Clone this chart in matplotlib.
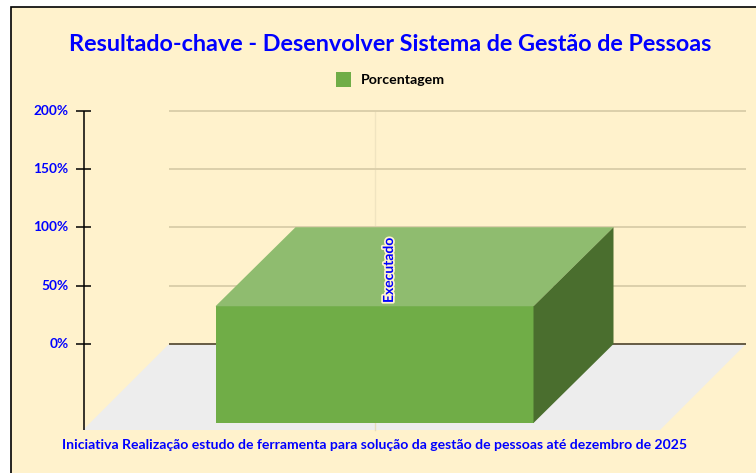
import matplotlib
matplotlib.use('Agg')
import matplotlib.pyplot as plt
import matplotlib.patheffects as pe
from matplotlib.patches import Polygon, Rectangle

W, H = 756, 473

title = "Resultado-chave - Desenvolver Sistema de Gestão de Pessoas"
series_name = "Porcentagem"
category = "Executado"
xlabel = "Iniciativa Realização estudo de ferramenta para solução da gestão de pessoas até dezembro de 2025"
values = [100]
yticks = [0, 50, 100, 150, 200]
ytick_labels = ["0%", "50%", "100%", "150%", "200%"]

BLUE = '#0000FF'
BG = '#FFF2CC'
FRONT = '#70AD47'
TOP = '#8FBC6F'
SIDE = '#4A6E2E'
FLOOR = '#EDEDED'
GRID = '#D9CDA8'

plt.rcParams['font.family'] = ['Lato', 'DejaVu Sans']
plt.rcParams['font.weight'] = 'bold'

fig = plt.figure(figsize=(W / 100, H / 100), dpi=100, facecolor='white')

# card behind everything, runs off the right and bottom edges
fig.patches.append(Rectangle((10.5 / W, -0.1), 1.1, 1.1 - 7.5 / H, transform=fig.transFigure,
                             fc=BG, ec='black', lw=1.2, zorder=-5))

# back wall: 169..746 px wide, 0% at y=344, 200% at y=110.5
left, right, top, bottom = 169, 746, 110.5, 344
ax = fig.add_axes([left / W, 1 - bottom / H, (right - left) / W, (bottom - top) / H])
ax.set_xlim(0, 1)
ax.set_ylim(0, 200)
ax.axis('off')

px_x = 1 / (right - left)
px_y = 200 / (bottom - top)

# floor
floor_dx = 86 * px_x
floor_dy = 86 * px_y
ax.add_patch(Polygon([(-floor_dx, -floor_dy), (0, 0), (1, 0), (1 - floor_dx, -floor_dy)],
                     fc=FLOOR, ec='none', clip_on=False, zorder=1))

# grid
for t in yticks:
    ax.plot([0, 1], [t, t], color='#5A5038' if t == 0 else GRID, lw=1.3, clip_on=False, zorder=2,
            solid_capstyle='butt')
ax.plot([206 * px_x] * 2, [0, 200], color='#F0E4C0', lw=1, zorder=1.5)
ax.plot([206 * px_x] * 2, [-floor_dy, -67 * px_y], color='#E6DCBC', lw=1, clip_on=False, zorder=1.5)

# y axis
axis_x = -85.5 * px_x
ax.plot([axis_x, axis_x], [-floor_dy, 200], color='black', lw=1.1, clip_on=False, zorder=3,
        solid_capstyle='butt')
for t, lab in zip(yticks, ytick_labels):
    ax.plot([axis_x - 8 * px_x, axis_x + 7 * px_x], [t, t], color='black', lw=1.1, clip_on=False, zorder=3,
            solid_capstyle='butt')
    ax.text(axis_x - 15 * px_x, t, lab, color=BLUE, fontsize=9.8, ha='right', va='center')

# 3d bar
bar_x = 46.5 * px_x
bar_w = 318 * px_x
dx = 80 * px_x
dy = 79 * px_y
v = values[0]
y0 = -dy
y1 = v - dy
x0, x1 = bar_x, bar_x + bar_w
ax.add_patch(Polygon([(x0, y0), (x1, y0), (x1, y1), (x0, y1)], fc=FRONT, ec='none', clip_on=False, zorder=5))
ax.add_patch(Polygon([(x0, y1), (x1, y1), (x1 + dx, v), (x0 + dx, v)], fc=TOP, ec='none', clip_on=False, zorder=5))
ax.add_patch(Polygon([(x1, y0), (x1 + dx, 0), (x1 + dx, v), (x1, y1)], fc=SIDE, ec='none', clip_on=False, zorder=5))

ax.text(220 * px_x, 41 * px_y, category, rotation=90, color=BLUE, fontsize=10,
        ha='center', va='bottom', zorder=7,
        path_effects=[pe.withStroke(linewidth=2.5, foreground='#FFF3D0')])

# title, legend, bottom label
fig.text(390 / W, 1 - 44.5 / H, title, color=BLUE, fontsize=16.8, ha='center', va='center')
fig.patches.append(Rectangle((336 / W, 1 - 87.5 / H), 15 / W, 15 / H, transform=fig.transFigure,
                             fc=FRONT, ec='none'))
fig.text(361 / W, 1 - 80 / H, series_name, color='black', fontsize=10.15, ha='left', va='center')
fig.text(374.5 / W, 1 - 444.5 / H, xlabel, color=BLUE, fontsize=10.12, ha='center', va='center')

fig.savefig('out.png', dpi=100)
